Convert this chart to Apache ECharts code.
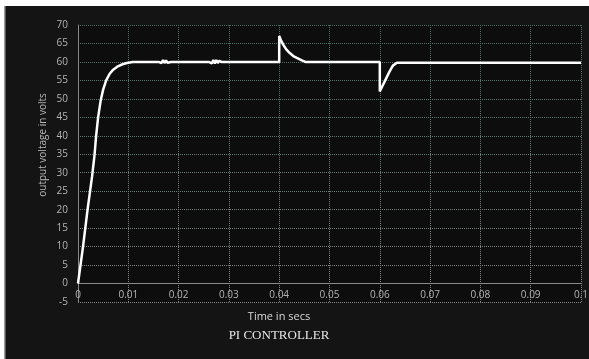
<!DOCTYPE html>
<html>
<head>
<meta charset="utf-8">
<style>
  html, body { margin: 0; padding: 0; background: #ffffff; }
  #chart { width: 589px; height: 359px; }
</style>
<script src="https://cdn.jsdelivr.net/npm/echarts@6/dist/echarts.min.js"></script>
</head>
<body>
<div id="chart"></div>
<script>
// Simulated output voltage of the converter under PI control
const timeS = [
  0, 0.001, 0.0019, 0.0028, 0.0033, 0.0036, 0.004, 0.0045, 0.005, 0.0056,
  0.0063, 0.007, 0.0078, 0.0087, 0.0097, 0.0109,
  0.016, 0.0163, 0.0166, 0.0169, 0.0172, 0.0175, 0.0178, 0.0181, 0.0185,
  0.026, 0.0263, 0.0266, 0.0269, 0.0272, 0.0275, 0.0278, 0.0281, 0.0285,
  0.04, 0.04, 0.0404, 0.0408, 0.0414, 0.0421, 0.0428, 0.0435, 0.0445, 0.0452,
  0.06, 0.06, 0.0605, 0.061, 0.0619, 0.0626, 0.0634, 0.064,
  0.1
];
const voltageV = [
  0, 10, 20, 29, 35, 40, 45, 49.5, 52.5, 55,
  56.8, 57.9, 58.7, 59.3, 59.7, 60,
  60, 60.4, 59.7, 60.5, 59.7, 60.4, 59.8, 60.3, 60,
  60, 60.4, 59.6, 60.5, 59.6, 60.5, 59.7, 60.3, 60,
  60, 67, 65.7, 64.7, 63.4, 62.4, 61.6, 61.1, 60.4, 60,
  60, 52, 53.4, 54.8, 57.3, 59.0, 59.8, 59.8,
  59.8
];
const xTicks = { min: 0, max: 0.1, step: 0.01 };
const yTicks = { min: -5, max: 70, step: 5 };

const seriesData = timeS.map((t, i) => [t, voltageV[i]]);

const gridTop = 25, gridBottom = 57, chartH = 359;
const plotH = chartH - gridTop - gridBottom;
// The time axis sits on the zero-volt line
const zeroOffset = -plotH * (0 - yTicks.min) / (yTicks.max - yTicks.min);

// Horizontal grid lines fade from grey (bottom) to a greenish tint (top)
const hLineColors = [];
const nH = Math.round((yTicks.max - yTicks.min) / yTicks.step) + 1;
for (let i = 0; i < nH; i++) {
  const f = i / (nH - 1);
  const r = Math.round(0x84 + (0x4c - 0x84) * f);
  const g = Math.round(0x84 + (0x72 - 0x84) * f);
  const b = Math.round(0x84 + (0x68 - 0x84) * f);
  hLineColors.push(`rgb(${r},${g},${b})`);
}

const chart = echarts.init(document.getElementById('chart'), null, { renderer: 'canvas' });
chart.setOption({
  backgroundColor: '#141414',
  animation: false,
  grid: {
    left: 78, right: 8, top: gridTop, bottom: gridBottom,
    containLabel: false,
    outerBoundsMode: 'none',
    show: true,
    backgroundColor: '#0d0d0d',
    borderWidth: 0
  },
  xAxis: {
    type: 'value',
    min: xTicks.min, max: xTicks.max, interval: xTicks.step,
    offset: zeroOffset,
    axisLine: { show: true, onZero: false, lineStyle: { color: '#8a8a8a', width: 1 } },
    axisTick: { show: false },
    axisLabel: {
      color: '#b4b4b4', fontFamily: 'Open Sans', fontSize: 10, margin: 7,
      formatter: v => String(+v.toFixed(2))
    },
    splitLine: {
      show: true,
      lineStyle: {
        type: [1, 1], width: 1,
        color: {
          type: 'linear', x: 0, y: 25, x2: 0, y2: 302, global: true,
          colorStops: [{ offset: 0, color: '#4c7066' }, { offset: 1, color: '#8a8a8a' }]
        }
      }
    }
  },
  yAxis: {
    type: 'value',
    min: yTicks.min, max: yTicks.max, interval: yTicks.step,
    axisLine: { show: true, onZero: false, lineStyle: { color: '#8a8a8a', width: 1 } },
    axisTick: { show: false },
    axisLabel: { color: '#b4b4b4', fontFamily: 'Open Sans', fontSize: 10, margin: 10 },
    splitLine: { show: true, lineStyle: { type: [1, 1], width: 1, color: hLineColors } }
  },
  series: [{
    type: 'line',
    data: seriesData,
    showSymbol: false,
    symbol: 'none',
    lineStyle: { color: '#ffffff', width: 2.5 },
    z: 5
  }],
  graphic: [
    { type: 'rect', shape: { x: 0, y: 0, width: 589, height: 6 }, style: { fill: '#ffffff' }, silent: true },
    { type: 'rect', shape: { x: 0, y: 0, width: 4, height: 359 }, style: { fill: '#ffffff' }, silent: true },
    { type: 'rect', shape: { x: 4, y: 6, width: 1.5, height: 353 }, style: { fill: '#9a9a9a' }, silent: true },
    {
      type: 'text', x: 43, y: 145, rotation: Math.PI / 2,
      style: {
        text: 'output voltage in volts', fill: '#b8b8b8',
        font: '10px "Open Sans"', textAlign: 'center', textVerticalAlign: 'middle'
      }
    },
    {
      type: 'text', x: 279, y: 317,
      style: {
        text: 'Time in secs', fill: '#d8d8d8',
        font: '11px "Open Sans"', textAlign: 'center', textVerticalAlign: 'middle'
      }
    },
    {
      type: 'text', x: 279, y: 336,
      style: {
        text: 'PI CONTROLLER', fill: '#e6e6e6',
        font: '13px "Liberation Serif"', textAlign: 'center', textVerticalAlign: 'middle'
      }
    }
  ]
});
</script>
</body>
</html>
